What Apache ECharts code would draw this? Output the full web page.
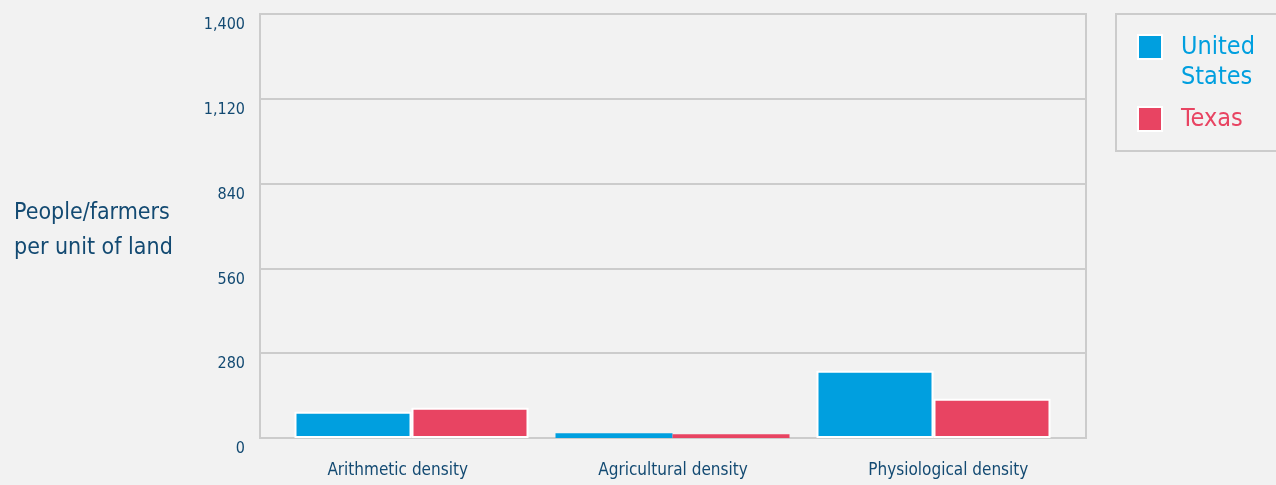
<!DOCTYPE html>
<html>
<head>
<meta charset="utf-8">
<script src="https://cdn.jsdelivr.net/npm/echarts@6/dist/echarts.min.js"></script>
<style>
html,body{margin:0;padding:0;background:#f2f2f2;}
#c{width:1276px;height:485px;}
</style>
</head>
<body>
<div id="c"></div>
<script>
const categories = ['Arithmetic density', 'Agricultural density', 'Physiological density'];
const usValues = [87, 16, 222];
const texasValues = [100, 12, 130];
const yTicks = [0, 280, 560, 840, 1120, 1400];
const yTickLabels = ['0', '280', '560', '840', '1,120', '1,400'];
const seriesNames = ['United States', 'Texas'];
const legendLabels = ['\u00a0\nUnited\nStates', 'Texas'];
const yTitle = 'People/farmers\nper unit of land';

const FONT = '"DejaVu Sans Condensed", "Roboto", sans-serif';
const NAVY = '#134a72';
const BLUE = '#009fdf';
const RED = '#e84462';

function barData(vals) {
  return vals.map(function (v) {
    return v < 30 ? {value: v, itemStyle: {borderWidth: 0}} : v;
  });
}

const chart = echarts.init(document.getElementById('c'), null, {renderer: 'canvas'});
chart.setOption({
  backgroundColor: '#f2f2f2',
  textStyle: {fontFamily: FONT},
  title: {
    text: yTitle, left: 14, top: 196, padding: 0,
    textStyle: {color: NAVY, fontSize: 23, lineHeight: 35, fontWeight: 'normal', fontFamily: FONT}
  },
  graphic: [{
    type: 'rect', left: 1115, top: 13, z: -1,
    shape: {width: 200, height: 137},
    style: {fill: '#f2f2f2', stroke: '#cccccc', lineWidth: 2}
  }],
  legend: {
    left: 1137, top: 2,
    orient: 'vertical',
    padding: 0,
    itemWidth: 24, itemHeight: 24, itemGap: 12,
    icon: 'rect',
    itemStyle: {borderColor: '#ffffff', borderWidth: 2},
    data: [
      {name: seriesNames[0], textStyle: {color: BLUE}},
      {name: seriesNames[1], textStyle: {color: RED}}
    ],
    formatter: function (n) { return legendLabels[seriesNames.indexOf(n)]; },
    textStyle: {fontFamily: FONT, fontSize: 25, lineHeight: 30, padding: [0, 0, 0, 14]},
    selectedMode: false
  },
  grid: [
    {left: 260, right: 190, top: 14, bottom: 47, show: true, borderColor: '#cccccc', borderWidth: 2, backgroundColor: 'transparent'},
    {left: 281, right: 212, top: 14, bottom: 47}
  ],
  xAxis: [
    {type: 'category', gridIndex: 0, data: categories,
     axisLine: {show: true, lineStyle: {color: '#cccccc', width: 2}},
     axisTick: {show: false},
     axisLabel: {color: NAVY, fontSize: 17, margin: 24, fontFamily: FONT}},
    {type: 'category', gridIndex: 1, data: categories, show: false}
  ],
  yAxis: [
    {type: 'value', gridIndex: 0, min: 0, max: 1400, interval: 280,
     axisLine: {show: true, lineStyle: {color: '#cccccc', width: 2}},
     axisTick: {show: false},
     splitLine: {lineStyle: {color: '#cccccc', width: 2}},
     axisLabel: {color: NAVY, fontSize: 16, margin: 15, fontFamily: FONT, verticalAlign: 'top', padding: [3, 0, 0, 0],
       formatter: function (v) { return yTickLabels[yTicks.indexOf(v)]; }}},
    {type: 'value', gridIndex: 1, min: 0, max: 1400, interval: 280, show: false, splitLine: {show: false}}
  ],
  series: [
    {name: seriesNames[0], type: 'bar', xAxisIndex: 1, yAxisIndex: 1, data: barData(usValues),
     barWidth: 117, barGap: '0%', itemStyle: {color: BLUE, borderColor: '#ffffff', borderWidth: 2}},
    {name: seriesNames[1], type: 'bar', xAxisIndex: 1, yAxisIndex: 1, data: barData(texasValues),
     barWidth: 117, barGap: '0%', itemStyle: {color: RED, borderColor: '#ffffff', borderWidth: 2}}
  ]
});
</script>
</body>
</html>
